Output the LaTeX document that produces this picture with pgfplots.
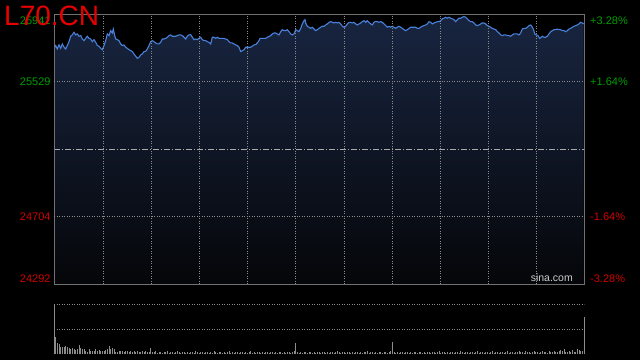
\documentclass[border=0pt]{standalone}
\usepackage{pgfplots}
\pgfplotsset{compat=1.18}
\usepackage{pgfplotstable}
\usepackage{fontspec}
\setmainfont{Liberation Sans}
\definecolor{upgreen}{RGB}{0,158,0}
\definecolor{downred}{RGB}{208,0,0}
\definecolor{titlered}{RGB}{232,0,0}
\definecolor{linecol}{RGB}{72,128,218}
\definecolor{filltop}{RGB}{24,37,64}
\definecolor{fillbot}{RGB}{5,6,9}
\definecolor{framegray}{RGB}{112,112,112}
\definecolor{gridgray}{RGB}{140,140,140}
\definecolor{midgray}{RGB}{170,170,170}
\definecolor{volgray}{RGB}{140,140,140}
\definecolor{sinagray}{RGB}{205,205,205}

\pgfplotstableread{
x y
0 25733
1.7 25750
3.3 25729
5 25754
6.7 25733
8.3 25760
10 25740
11.7 25729
13.3 25750
15 25774
16.7 25807
18.3 25815
20 25831
21.7 25815
23.3 25821
25 25807
26.7 25811
28.3 25790
30 25780
31.7 25794
33.3 25807
35 25794
36.7 25790
38.3 25774
40 25786
41.7 25770
43.3 25750
45 25746
46.7 25733
48.3 25725
50 25750
51.7 25780
53.3 25821
55 25811
56.7 25841
58.3 25827
59.3 25851
60.7 25811
61.7 25790
63.3 25786
65 25780
66.7 25760
68.3 25750
70 25754
71.7 25740
73.3 25733
75 25725
76.7 25719
78.3 25713
80 25699
81.7 25685
83.3 25672
85 25678
86.7 25693
88.3 25699
90 25713
91.7 25715
93.3 25729
95 25750
96.7 25774
98.3 25780
100 25774
101.7 25766
103.3 25760
105 25760
106.7 25770
108.3 25790
110 25790
111.7 25794
113.3 25801
115 25811
116.7 25815
118.3 25807
120 25807
121.7 25807
123.3 25811
125 25815
126.7 25815
128.3 25811
130 25801
131.7 25790
133.3 25807
135 25815
136.7 25817
138.3 25801
140 25786
141.7 25790
143.3 25786
145 25794
146.7 25801
148.3 25786
150 25780
151.7 25780
153.3 25774
155 25770
156.7 25760
158.3 25801
160 25801
161.7 25794
163.3 25801
165 25794
166.7 25794
168.3 25794
170 25794
171.7 25790
173.3 25786
175 25774
176.7 25766
178.3 25766
180 25760
181.7 25754
183.3 25750
185 25740
186.7 25713
188.3 25719
190 25725
191.7 25740
193.3 25740
195 25740
196.7 25740
198.3 25746
200 25754
201.7 25756
203.3 25766
205 25780
206 25794
208.3 25794
210 25794
211.7 25794
213.3 25801
215 25805
216.7 25811
218.3 25821
220 25827
221.7 25827
223.3 25821
225 25815
226.7 25835
228.3 25847
230 25841
231.7 25841
233.3 25847
235 25835
236.7 25821
238.3 25815
240 25821
241.7 25847
243.3 25841
245 25835
246.7 25855
248.3 25882
250 25902
251 25908
251.7 25888
253.3 25868
255 25862
256.7 25855
258.3 25862
260 25851
261.7 25841
263.3 25847
265 25855
266.7 25862
268.3 25868
270 25868
271.7 25876
273.3 25882
275 25892
276.7 25896
278.3 25892
280 25888
281.7 25892
283.3 25888
285 25892
286.7 25882
288.3 25868
290 25862
291.7 25868
293.3 25882
295 25892
296.7 25892
298.3 25888
300 25892
301.7 25882
303.3 25876
305 25882
306.7 25888
308.3 25896
310 25902
311.7 25892
313.3 25902
315 25892
316.7 25882
318.3 25876
320 25892
321.7 25898
323.3 25896
325 25892
326.7 25896
328.3 25892
330 25882
331.7 25872
333.3 25862
335 25868
336.7 25862
338.3 25868
340 25862
341.7 25855
343.3 25862
345 25868
346.7 25862
348.3 25855
350 25847
351.7 25841
353.3 25847
355 25855
356.7 25862
358.3 25862
360 25862
361.7 25862
363.3 25855
365 25855
366.7 25862
368.3 25868
370 25872
371.7 25876
373.3 25882
375 25896
376.7 25892
378.3 25882
380 25888
381.7 25892
383.3 25896
385 25896
386.7 25902
388.3 25913
390 25917
391.7 25923
393.3 25917
395 25923
396.7 25917
398.3 25913
400 25908
401.7 25896
403.3 25908
405 25917
406.7 25917
408.3 25923
410 25927
411.7 25923
413.3 25913
415 25902
416.7 25896
418.3 25896
420 25888
421.7 25876
423.3 25872
425 25876
426.7 25882
428.3 25888
430 25888
431.7 25882
433.3 25872
435 25868
436.7 25862
438.3 25855
440 25851
441.7 25847
443.3 25835
445 25827
446.7 25815
448.3 25811
450 25815
451.7 25815
453.3 25811
455 25811
456.7 25807
458.3 25815
460 25821
461.7 25821
463.3 25821
465 25815
466.7 25827
468.3 25851
470 25855
471.7 25855
473.3 25862
475 25872
476.7 25876
478.3 25862
479.3 25851
480.7 25821
482.3 25815
484 25811
485.7 25794
487.3 25801
488.3 25807
490 25801
491.7 25801
493.3 25807
495 25821
496.7 25835
498.3 25841
500 25847
501.7 25847
503.3 25851
505 25847
506.7 25847
508.3 25841
510 25841
511.7 25835
513.3 25841
515 25851
516.7 25855
518.3 25862
520 25868
521.7 25872
523.3 25876
525 25882
526.7 25892
528.3 25888
529.7 25882
}\price

\begin{document}
\begin{tikzpicture}
\fill[black] (0,0) rectangle (640bp,360bp);
\useasboundingbox (0,0) rectangle (640bp,360bp);

% price panel
\begin{axis}[
  at={(54bp,75.7bp)}, anchor=south west,
  scale only axis, width=530bp, height=270bp,
  xmin=0, xmax=530, ymin=24292, ymax=25941,
  axis on top,
  axis line style={framegray, line width=1bp},
  xtick={49.3,97.7,145.3,193.7,241.7,290,338.3,386.3,434.3,482.3},
  xticklabel={},
  xmajorgrids,
  ytick={25904.4,25529,24704,24328.8},
  yticklabels={\textcolor{upgreen}{25941},\textcolor{upgreen}{25529},\textcolor{downred}{24704},\textcolor{downred}{24292}},
  extra y ticks={25529,24704},
  extra y tick labels={},
  extra y tick style={grid=major},
  major tick length=0pt,
  grid style={gridgray, line width=0.9bp, dash pattern=on 1bp off 1.5bp},
  yticklabel style={font=\fontsize{11bp}{13bp}\selectfont, inner sep=0pt, xshift=-3.3bp},
]
\addplot[draw=none, top color=filltop, bottom color=fillbot] table[x=x,y=y]{\price} |- (axis cs:0,24292) -- cycle;
\addplot[midgray, line width=0.8bp, dash pattern=on 6bp off 2bp on 1bp off 2bp] coordinates {(0,25116.5) (530,25116.5)};
\addplot[linecol, line width=1.1bp, mark=none] table[x=x,y=y]{\price};
\end{axis}

% right percent labels
\begin{axis}[
  at={(54bp,75.7bp)}, anchor=south west,
  scale only axis, width=530bp, height=270bp,
  xmin=0, xmax=530, ymin=24292, ymax=25941,
  axis x line=none, axis y line*=right,
  y axis line style={draw=none},
  ytick={25904.4,25529,24704,24328.8},
  yticklabels={\textcolor{upgreen}{+3.28\%},\textcolor{upgreen}{+1.64\%},\textcolor{downred}{-1.64\%},\textcolor{downred}{-3.28\%}},
  major tick length=0pt,
  yticklabel style={font=\fontsize{11bp}{13bp}\selectfont, inner sep=0pt, xshift=6bp, anchor=west},
]
\addplot[draw=none, mark=none] coordinates {(0,25116.5) (530,25116.5)};
\end{axis}

% volume panel
\begin{axis}[
  at={(54bp,5.7bp)}, anchor=south west,
  scale only axis, width=530bp, height=50bp,
  xmin=0, xmax=318, ymin=0, ymax=100,
  axis line style={draw=none},
  xtick=\empty,
  ytick={50,100}, yticklabel={},
  ymajorgrids,
  major tick length=0pt,
  grid style={gridgray, line width=0.9bp, dash pattern=on 1bp off 1.5bp},
  clip=false,
]
\addplot[ycomb, volgray, line width=0.9bp, mark=none] coordinates {
(0,100)(1,35)(2,23)(3,21)(4,15)(5,14)(6,15)(7,17)(8,15)(9,12)(10,10)(11,12)(12,10)(13,9)(14,10)(15,19)(16,12)(17,10)(18,10)(19,7)
(20,5)(21,10)(22,7)(23,7)(24,7)(25,10)(26,7)(27,9)(28,7)(29,7)(30,7)(31,9)(32,10)(33,17)(34,10)(35,12)(36,10)(37,5)(38,5)(39,7)
(40,7)(41,7)(42,5)(43,7)(44,6)(45,5)(46,7)(47,4)(48,6)(49,5)(50,7)(51,5)(52,4)(53,6)(54,5)(55,7)(56,5)(57,4)(58,13)(59,5)
(60,4)(61,6)(62,3)(63,5)(64,4)(65,3)(66,5)(67,4)(68,6)(69,3)(70,4)(71,5)(72,3)(73,4)(74,6)(75,5)(76,3)(77,4)(78,5)(79,3)
(80,4)(81,3)(82,5)(83,4)(84,3)(85,6)(86,4)(87,3)(88,5)(89,4)(90,3)(91,4)(92,5)(93,3)(94,4)(95,3)(96,6)(97,4)(98,3)(99,5)
(100,4)(101,3)(102,5)(103,3)(104,4)(105,6)(106,3)(107,4)(108,3)(109,5)(110,4)(111,3)(112,4)(113,5)(114,3)(115,4)(116,3)(117,4)(118,6)(119,3)
(120,4)(121,3)(122,5)(123,4)(124,3)(125,4)(126,3)(127,5)(128,4)(129,3)(130,4)(131,5)(132,3)(133,4)(134,3)(135,4)(136,5)(137,3)(138,4)(139,3)
(140,5)(141,4)(142,3)(143,4)(144,6)(145,22)(146,5)(147,3)(148,4)(149,3)(150,5)(151,4)(152,3)(153,4)(154,5)(155,3)(156,4)(157,3)(158,4)(159,5)
(160,3)(161,4)(162,5)(163,3)(164,4)(165,3)(166,5)(167,4)(168,3)(169,4)(170,6)(171,4)(172,3)(173,5)(174,4)(175,3)(176,4)(177,5)(178,3)(179,4)
(180,3)(181,4)(182,5)(183,3)(184,4)(185,3)(186,5)(187,4)(188,6)(189,3)(190,4)(191,5)(192,3)(193,4)(194,3)(195,5)(196,4)(197,3)(198,4)(199,5)
(200,3)(201,4)(202,6)(203,24)(204,5)(205,3)(206,4)(207,3)(208,5)(209,4)(210,3)(211,4)(212,5)(213,3)(214,4)(215,3)(216,4)(217,5)(218,3)(219,4)
(220,5)(221,3)(222,4)(223,3)(224,5)(225,4)(226,3)(227,4)(228,5)(229,3)(230,4)(231,6)(232,3)(233,4)(234,5)(235,3)(236,4)(237,3)(238,5)(239,4)
(240,3)(241,4)(242,5)(243,3)(244,6)(245,4)(246,3)(247,5)(248,4)(249,3)(250,4)(251,5)(252,3)(253,4)(254,6)(255,3)(256,4)(257,5)(258,3)(259,4)
(260,5)(261,3)(262,4)(263,6)(264,3)(265,4)(266,5)(267,3)(268,4)(269,5)(270,3)(271,4)(272,6)(273,3)(274,5)(275,4)(276,3)(277,5)(278,4)(279,6)
(280,4)(281,5)(282,3)(283,6)(284,4)(285,5)(286,3)(287,4)(288,6)(289,5)(290,4)(291,3)(292,5)(293,6)(294,4)(295,5)(296,3)(297,6)(298,5)(299,4)
(300,6)(301,5)(302,4)(303,7)(304,9)(305,6)(306,10)(307,5)(308,4)(309,7)(310,5)(311,9)(312,4)(313,5)(314,10)(315,9)(316,6)(317,7)(318,75)
};
\end{axis}

\node[anchor=base west, inner sep=0pt, text=titlered, font=\fontsize{28bp}{30bp}\selectfont] at (4bp,334bp) {L70.CN};
\node[anchor=base east, inner sep=0pt, text=sinagray, font=\fontsize{10.5bp}{12bp}\selectfont] at (573bp,78bp) {sina.com};
\end{tikzpicture}
\end{document}
